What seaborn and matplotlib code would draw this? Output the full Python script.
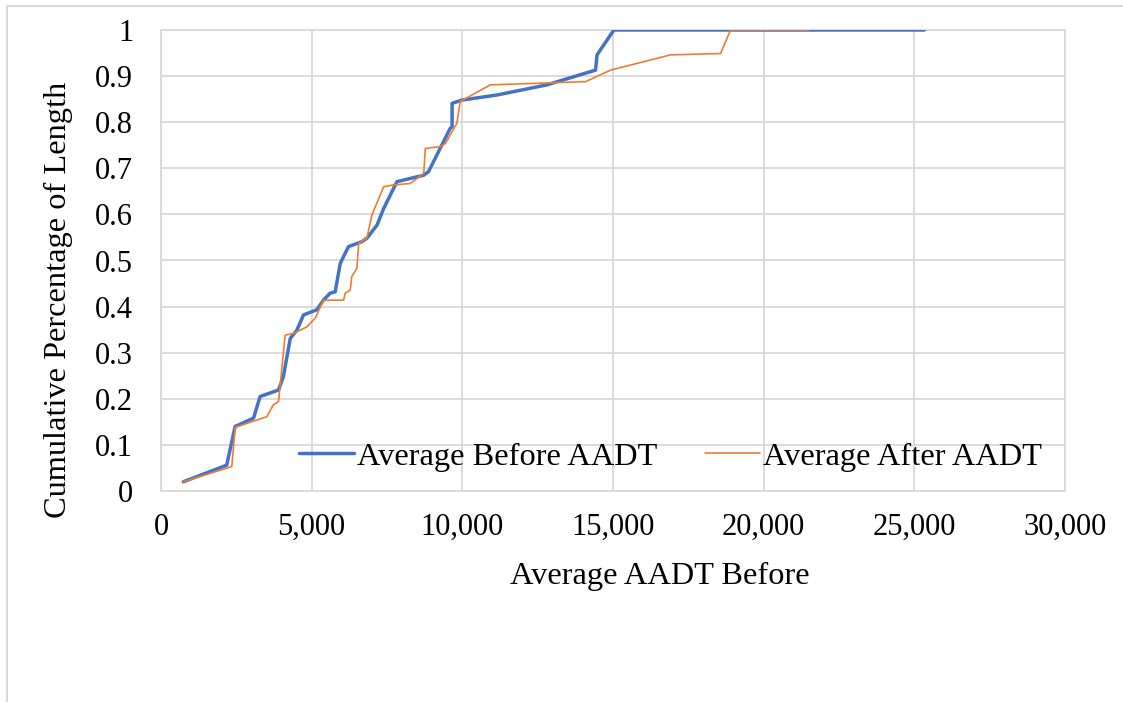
import numpy as np
import pandas as pd
import matplotlib
matplotlib.use("Agg")
import matplotlib.pyplot as plt
import seaborn as sns
from matplotlib.ticker import FuncFormatter, MultipleLocator
from matplotlib.lines import Line2D

# ---- data ----
before_x = [740, 2180, 2460, 3070, 3290, 3900, 4060, 4290, 4510, 4730, 5170, 5390,
            5610, 5780, 5950, 6220, 6670, 6830, 7170, 7390, 7830, 8720, 8880, 9600,
            9660, 9660, 9990, 11150, 12810, 14420, 14470, 15030, 25330]
before_y = [0.02, 0.056, 0.14, 0.158, 0.205, 0.219, 0.248, 0.331, 0.349, 0.382, 0.393, 0.414,
            0.429, 0.432, 0.494, 0.53, 0.541, 0.548, 0.577, 0.613, 0.671, 0.685, 0.693, 0.787,
            0.79, 0.841, 0.848, 0.859, 0.881, 0.913, 0.946, 1.0, 1.0]

after_x = [740, 2350, 2460, 3180, 3510, 3730, 3900, 4120, 4400, 4840, 5120, 5390,
           6060, 6110, 6280, 6330, 6500, 6560, 6830, 7000, 7390, 7720, 8270, 8720,
           8770, 9270, 9440, 9820, 9930, 10930, 14090, 14920, 16910, 18570, 18900, 21500]
after_y = [0.02, 0.053, 0.138, 0.154, 0.161, 0.187, 0.194, 0.338, 0.342, 0.356, 0.375, 0.414,
           0.414, 0.429, 0.436, 0.465, 0.483, 0.537, 0.548, 0.599, 0.66, 0.664, 0.667, 0.689,
           0.743, 0.747, 0.754, 0.798, 0.845, 0.881, 0.888, 0.913, 0.946, 0.949, 1.0, 1.0]

series_names = ["Average Before AADT", "Average After AADT"]
series_colors = ["#4472C4", "#ED7D31"]
series_widths = [2.5, 1.2]

x_label = "Average AADT Before"
y_label = "Cumulative Percentage of Length"

sns.set_style("white")
plt.rcParams["font.family"] = ["Liberation Serif", "DejaVu Serif"]
plt.rcParams["text.color"] = "#000000"
plt.rcParams["axes.labelcolor"] = "#000000"
FS_TICK = 22
FS_LAB = 23.3

fig = plt.figure(figsize=(11.23, 7.02), dpi=100)
ax = fig.add_axes([161 / 1123, 1 - 491 / 702, (1065 - 161) / 1123, (491 - 30) / 702])

df_b = pd.DataFrame({"x": before_x, "y": before_y})
df_a = pd.DataFrame({"x": after_x, "y": after_y})
sns.lineplot(data=df_b, x="x", y="y", ax=ax, sort=False, estimator=None,
             color=series_colors[0], linewidth=series_widths[0], zorder=3)
sns.lineplot(data=df_a, x="x", y="y", ax=ax, sort=False, estimator=None,
             color=series_colors[1], linewidth=series_widths[1], zorder=4)

ax.set_xlim(0, 30000)
ax.set_ylim(0, 1)
ax.xaxis.set_major_locator(MultipleLocator(5000))
ax.yaxis.set_major_locator(MultipleLocator(0.1))
ax.xaxis.set_major_formatter(FuncFormatter(lambda v, p: f"{int(round(v)):,}"))
ax.yaxis.set_major_formatter(FuncFormatter(
    lambda v, p: str(int(round(v))) if abs(v - round(v)) < 1e-9 else f"{v:.1f}"))

ax.grid(True, color="#d9d9d9", linewidth=1.3)
ax.set_axisbelow(True)
for s in ax.spines.values():
    s.set_color("#d9d9d9")
    s.set_linewidth(1.3)

ax.tick_params(axis="both", length=0, labelsize=FS_TICK, labelcolor="#000000")
ax.tick_params(axis="y", pad=20)
ax.tick_params(axis="x", pad=16)

ax.set_xlabel(x_label, fontsize=FS_LAB)
ax.set_ylabel(y_label, fontsize=FS_LAB)
ax.xaxis.set_label_coords(0.552, -0.155)
ax.yaxis.set_label_coords(-0.097, 0.414)

handles = [Line2D([0], [0], color=c, linewidth=w) for c, w in zip(series_colors, series_widths)]
leg = ax.legend(handles, series_names, loc="center", bbox_to_anchor=(0.5635, 0.074), ncol=2,
                frameon=False, fontsize=FS_LAB, handlelength=1.7, handletextpad=0.1,
                columnspacing=1.45, borderaxespad=0)
for t in leg.get_texts():
    t.set_color("#000000")

# outer chart-area border (top and left visible in the reference)
fig.add_artist(Line2D([7 / 1123, 1], [1 - 6 / 702, 1 - 6 / 702], transform=fig.transFigure,
                      color="#d9d9d9", linewidth=1.5))
fig.add_artist(Line2D([7 / 1123, 7 / 1123], [0, 1 - 6 / 702], transform=fig.transFigure,
                      color="#d9d9d9", linewidth=1.5))

fig.savefig("out.png", dpi=100, facecolor="white")
